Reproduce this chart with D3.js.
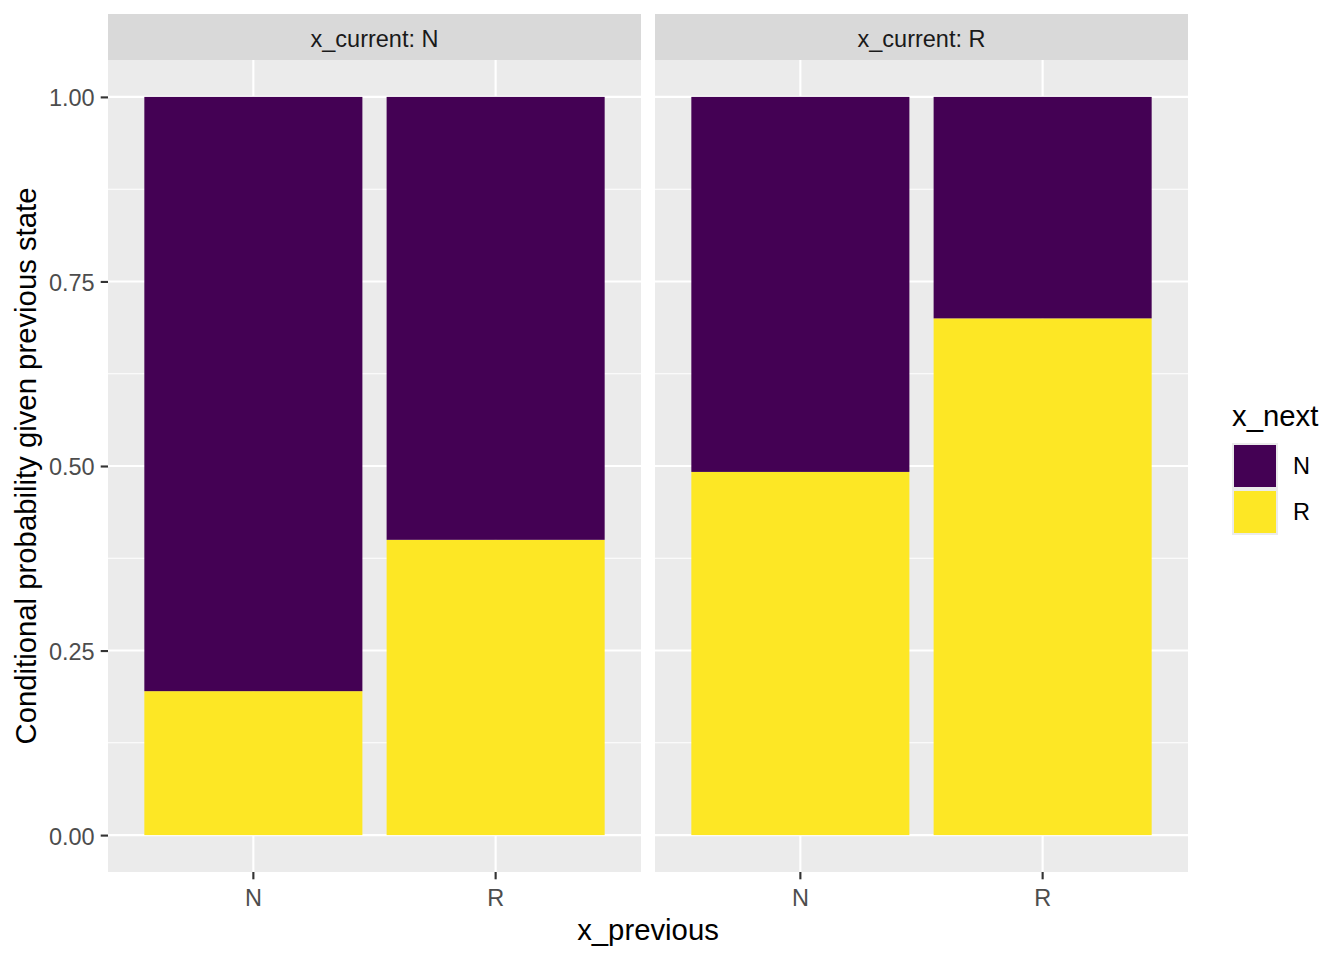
<!DOCTYPE html>
<html>
<head>
<meta charset="utf-8">
<script src="https://cdn.jsdelivr.net/npm/d3@7"></script>
<style>
  html, body { margin: 0; padding: 0; background: #fff; }
  svg { display: block; font-family: "Liberation Sans", Arial, sans-serif; }
</style>
</head>
<body>
<svg id="chart" width="1344" height="960"></svg>
<script>
// ---- data ----
const facets = ["N", "R"];              // x_current
const xPrevious = ["N", "R"];           // x_previous
const nextStates = ["N", "R"];          // x_next (stack order: N on top, R bottom)
// probability of x_next = R, per facet (x_current) and x_previous
const probR_currentN = [0.195, 0.40];
const probR_currentR = [0.492, 0.70];
const yTicks = [0, 0.25, 0.5, 0.75, 1.0];
const yMinor = [0.125, 0.375, 0.625, 0.875];
const colors = { N: "#440154", R: "#FDE725" };

const probByFacet = { N: probR_currentN, R: probR_currentR };

const svg = d3.select("#chart");
const panelTop = 60, panelBottom = 872, stripTop = 14;
const panelX = [[108, 641], [655, 1188]];

const y = d3.scaleLinear().domain([-0.05, 1.05]).range([panelBottom, panelTop]);

facets.forEach((f, i) => {
  const [x0, x1] = panelX[i];
  const x = d3.scaleBand().domain(xPrevious).range([x0, x1]).paddingInner(0.1).paddingOuter(0.15);
  // strip
  svg.append("rect").attr("x", x0).attr("y", stripTop).attr("width", x1 - x0).attr("height", panelTop - stripTop).attr("fill", "#D9D9D9");
  svg.append("text").attr("x", (x0 + x1) / 2).attr("y", (stripTop + panelTop) / 2 + 2).attr("dy", "0.35em")
    .attr("text-anchor", "middle").attr("font-size", 23.5).attr("fill", "#1A1A1A").text("x_current: " + f);
  // panel bg
  const g = svg.append("g");
  g.append("rect").attr("x", x0).attr("y", panelTop).attr("width", x1 - x0).attr("height", panelBottom - panelTop).attr("fill", "#EBEBEB");
  yMinor.forEach(v => g.append("line").attr("x1", x0).attr("x2", x1).attr("y1", y(v)).attr("y2", y(v)).attr("stroke", "#fff").attr("stroke-width", 1.07));
  yTicks.forEach(v => g.append("line").attr("x1", x0).attr("x2", x1).attr("y1", y(v)).attr("y2", y(v)).attr("stroke", "#fff").attr("stroke-width", 2.13));
  xPrevious.forEach(c => {
    const cx = x(c) + x.bandwidth() / 2;
    g.append("line").attr("x1", cx).attr("x2", cx).attr("y1", panelTop).attr("y2", panelBottom).attr("stroke", "#fff").attr("stroke-width", 2.13);
  });
  // bars
  const probs = probByFacet[f];
  xPrevious.forEach((c, j) => {
    const pR = probs[j];
    const segs = [{ s: "R", lo: 0, hi: pR }, { s: "N", lo: pR, hi: 1 }];
    segs.forEach(sg => {
      g.append("rect").attr("x", x(c)).attr("width", x.bandwidth())
        .attr("y", y(sg.hi)).attr("height", y(sg.lo) - y(sg.hi)).attr("fill", colors[sg.s]);
    });
  });
  // x axis
  const ax = svg.append("g").attr("transform", `translate(0,${panelBottom})`)
    .call(d3.axisBottom(x).tickSize(7.3).tickPadding(10));
  ax.select(".domain").remove();
  ax.selectAll(".tick line").attr("stroke", "#333333").attr("stroke-width", 2.13);
  ax.selectAll(".tick text").attr("font-size", 23.5).attr("fill", "#4D4D4D").attr("font-family", "Liberation Sans, Arial, sans-serif");
});

// y axis
const ay = svg.append("g").attr("transform", `translate(${panelX[0][0]},0)`)
  .call(d3.axisLeft(y).tickValues(yTicks).tickFormat(d3.format(".2f")).tickSize(7.3).tickPadding(6));
ay.select(".domain").remove();
ay.selectAll(".tick line").attr("stroke", "#333333").attr("stroke-width", 2.13);
ay.selectAll(".tick text").attr("font-size", 23.5).attr("fill", "#4D4D4D").attr("font-family", "Liberation Sans, Arial, sans-serif").attr("dy", "0.38em");

// axis titles
svg.append("text").attr("x", (panelX[0][0] + panelX[1][1]) / 2).attr("y", 940)
  .attr("text-anchor", "middle").attr("font-size", 29.3).attr("fill", "#000").text("x_previous");
svg.append("text").attr("transform", `translate(36,${(panelTop + panelBottom) / 2}) rotate(-90)`)
  .attr("text-anchor", "middle").attr("font-size", 29.3).attr("fill", "#000").text("Conditional probability given previous state");

// legend
const lg = svg.append("g");
lg.append("text").attr("x", 1232).attr("y", 426).attr("font-size", 29.3).attr("fill", "#000").text("x_next");
nextStates.forEach((s, i) => {
  const ky = 443 + i * 46;
  lg.append("rect").attr("x", 1232).attr("y", ky).attr("width", 46).attr("height", 46).attr("fill", "#EBEBEB");
  lg.append("rect").attr("x", 1234).attr("y", ky + 2).attr("width", 42).attr("height", 42).attr("fill", colors[s]);
  lg.append("text").attr("x", 1293).attr("y", ky + 23).attr("dy", "0.35em").attr("font-size", 23.5).attr("fill", "#000").text(s);
});
</script>
</body>
</html>
